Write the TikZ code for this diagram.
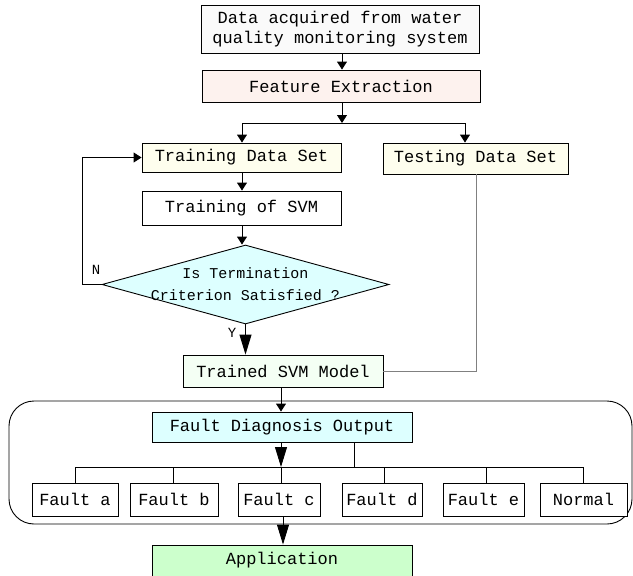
\documentclass[tikz,border=0pt]{standalone}
\usepackage{fontspec}
\setmonofont{Liberation Mono}
\usetikzlibrary{arrows.meta,shapes.geometric}
\definecolor{cdata}{HTML}{FAFAFA}
\definecolor{cfeat}{HTML}{FDF2EE}
\definecolor{cyel}{HTML}{FEFEEE}
\definecolor{ccyan}{HTML}{DDFFFF}
\definecolor{cgreen}{HTML}{F4FFF4}
\definecolor{capp}{HTML}{CCFFCC}
\tikzset{
  box/.style={draw, line width=0.9pt, inner sep=0pt, font=\ttfamily\fontsize{17}{20}\selectfont, align=center},
  dia/.style={draw, diamond, line width=0.9pt, inner sep=0pt, fill=ccyan},
  sarr/.style={line width=0.9pt, -{Triangle[length=8pt,width=10pt]}},
  barr/.style={line width=0.9pt, -{Triangle[length=20pt,width=12pt]}},
  conn/.style={line width=0.9pt},
  gconn/.style={line width=0.9pt, draw=gray},
  lbl/.style={font=\ttfamily\fontsize{14}{16}\selectfont, inner sep=0pt},
}
\begin{document}
\begin{tikzpicture}[x=1pt,y=-1pt]
\useasboundingbox (0,0) rectangle (633,576);
% outer rounded frame
\draw[conn, rounded corners=25pt] (9,401) rectangle (632,524);
\node[box, fill=cdata, minimum width=278pt, minimum height=48pt] (data) at (340,29) {Data acquired from water\\quality monitoring system};
\node[box, fill=cfeat, minimum width=278pt, minimum height=32pt] (feat) at (341,86) {Feature Extraction};
\node[box, fill=cyel, minimum width=199pt, minimum height=29pt] (train) at (241.5,157.5) {Training Data Set};
\node[box, fill=cyel, minimum width=185pt, minimum height=31pt] (test) at (475.5,158.5) {Testing Data Set};
\node[box, fill=white, minimum width=199pt, minimum height=34pt] (tsvm) at (241.5,208) {Training of SVM};
\node[dia, minimum width=287pt, minimum height=79pt] (dec) at (245.5,284.5) {};
\node[lbl, align=center, font=\ttfamily\fontsize{15}{22}\selectfont] (dectext) at (dec.center) {Is Termination\\Criterion Satisfied ?};
\node[box, fill=cgreen, minimum width=200pt, minimum height=32pt] (model) at (283,371) {Trained SVM Model};
\node[box, fill=ccyan, minimum width=260pt, minimum height=30pt] (fdo) at (282,427) {Fault Diagnosis Output};
\node[box, fill=white, minimum width=86pt, minimum height=33pt] (fa) at (75,499.5) {Fault a};
\node[box, fill=white, minimum width=88pt, minimum height=33pt] (fb) at (174,499.5) {Fault b};
\node[box, fill=white, minimum width=82pt, minimum height=33pt] (fc) at (279,499.5) {Fault c};
\node[box, fill=white, minimum width=80pt, minimum height=33pt] (fd) at (382,499.5) {Fault d};
\node[box, fill=white, minimum width=81pt, minimum height=33pt] (fe) at (483.5,499.5) {Fault e};
\node[box, fill=white, minimum width=87pt, minimum height=33pt] (fn) at (583.5,499.5) {Normal};
\node[box, fill=capp, minimum width=260pt, minimum height=31pt] (app) at (282,560.5) {Application};
% labels
\node[lbl] (nlab) at (96,270) {N};
\node[lbl] (ylab) at (232,333) {Y};
% coordinates
\coordinate (split) at (342,123);
\coordinate (sl) at (242,123);
\coordinate (sr) at (465,123);
\coordinate (fbk) at (82,284.5);
\coordinate (fbt) at (82,157.5);
\coordinate (tc) at (476,371);
\coordinate (bus) at (281,467);
\coordinate (busr) at (354,467);
% connectors
\draw[sarr] (data.south -| split) -- (feat.north -| split);
\draw[sarr] (feat.south -| split) -- (split);
\draw[conn] (sl) -- (sr);
\draw[sarr] (sl) -- (train.north -| sl);
\draw[sarr] (sr) -- (test.north -| sr);
\draw[sarr] (train.south -| sl) -- (tsvm.north -| sl);
\draw[sarr] (tsvm.south -| sl) -- (dec.north -| sl);
\draw[conn] (dec.west) -- (fbk) -- (fbt);
\draw[sarr] (fbt) -- (train.west);
\draw[barr] (dec.south) -- (model.north -| dec.south);
\draw[gconn] (test.south -| tc) -- (tc) -- (model.east |- tc);
\draw[sarr] (model.south -| bus) -- (fdo.north -| bus);
\draw[barr] (fdo.south -| bus) -- (bus);
\draw[conn] (fdo.south -| busr) -- (busr);
\draw[conn] (75,467) -- (583,467);
\draw[conn] (75,467) -- (fa.north -| 75,0);
\draw[conn] (173,467) -- (fb.north -| 173,0);
\draw[conn] (bus) -- (fc.north -| bus);
\draw[conn] (384,467) -- (fd.north -| 384,0);
\draw[conn] (486,467) -- (fe.north -| 486,0);
\draw[conn] (583,467) -- (fn.north -| 583,0);
\draw[barr] (fc.south -| 283,0) -- (app.north -| 283,0);
\end{tikzpicture}
\end{document}
